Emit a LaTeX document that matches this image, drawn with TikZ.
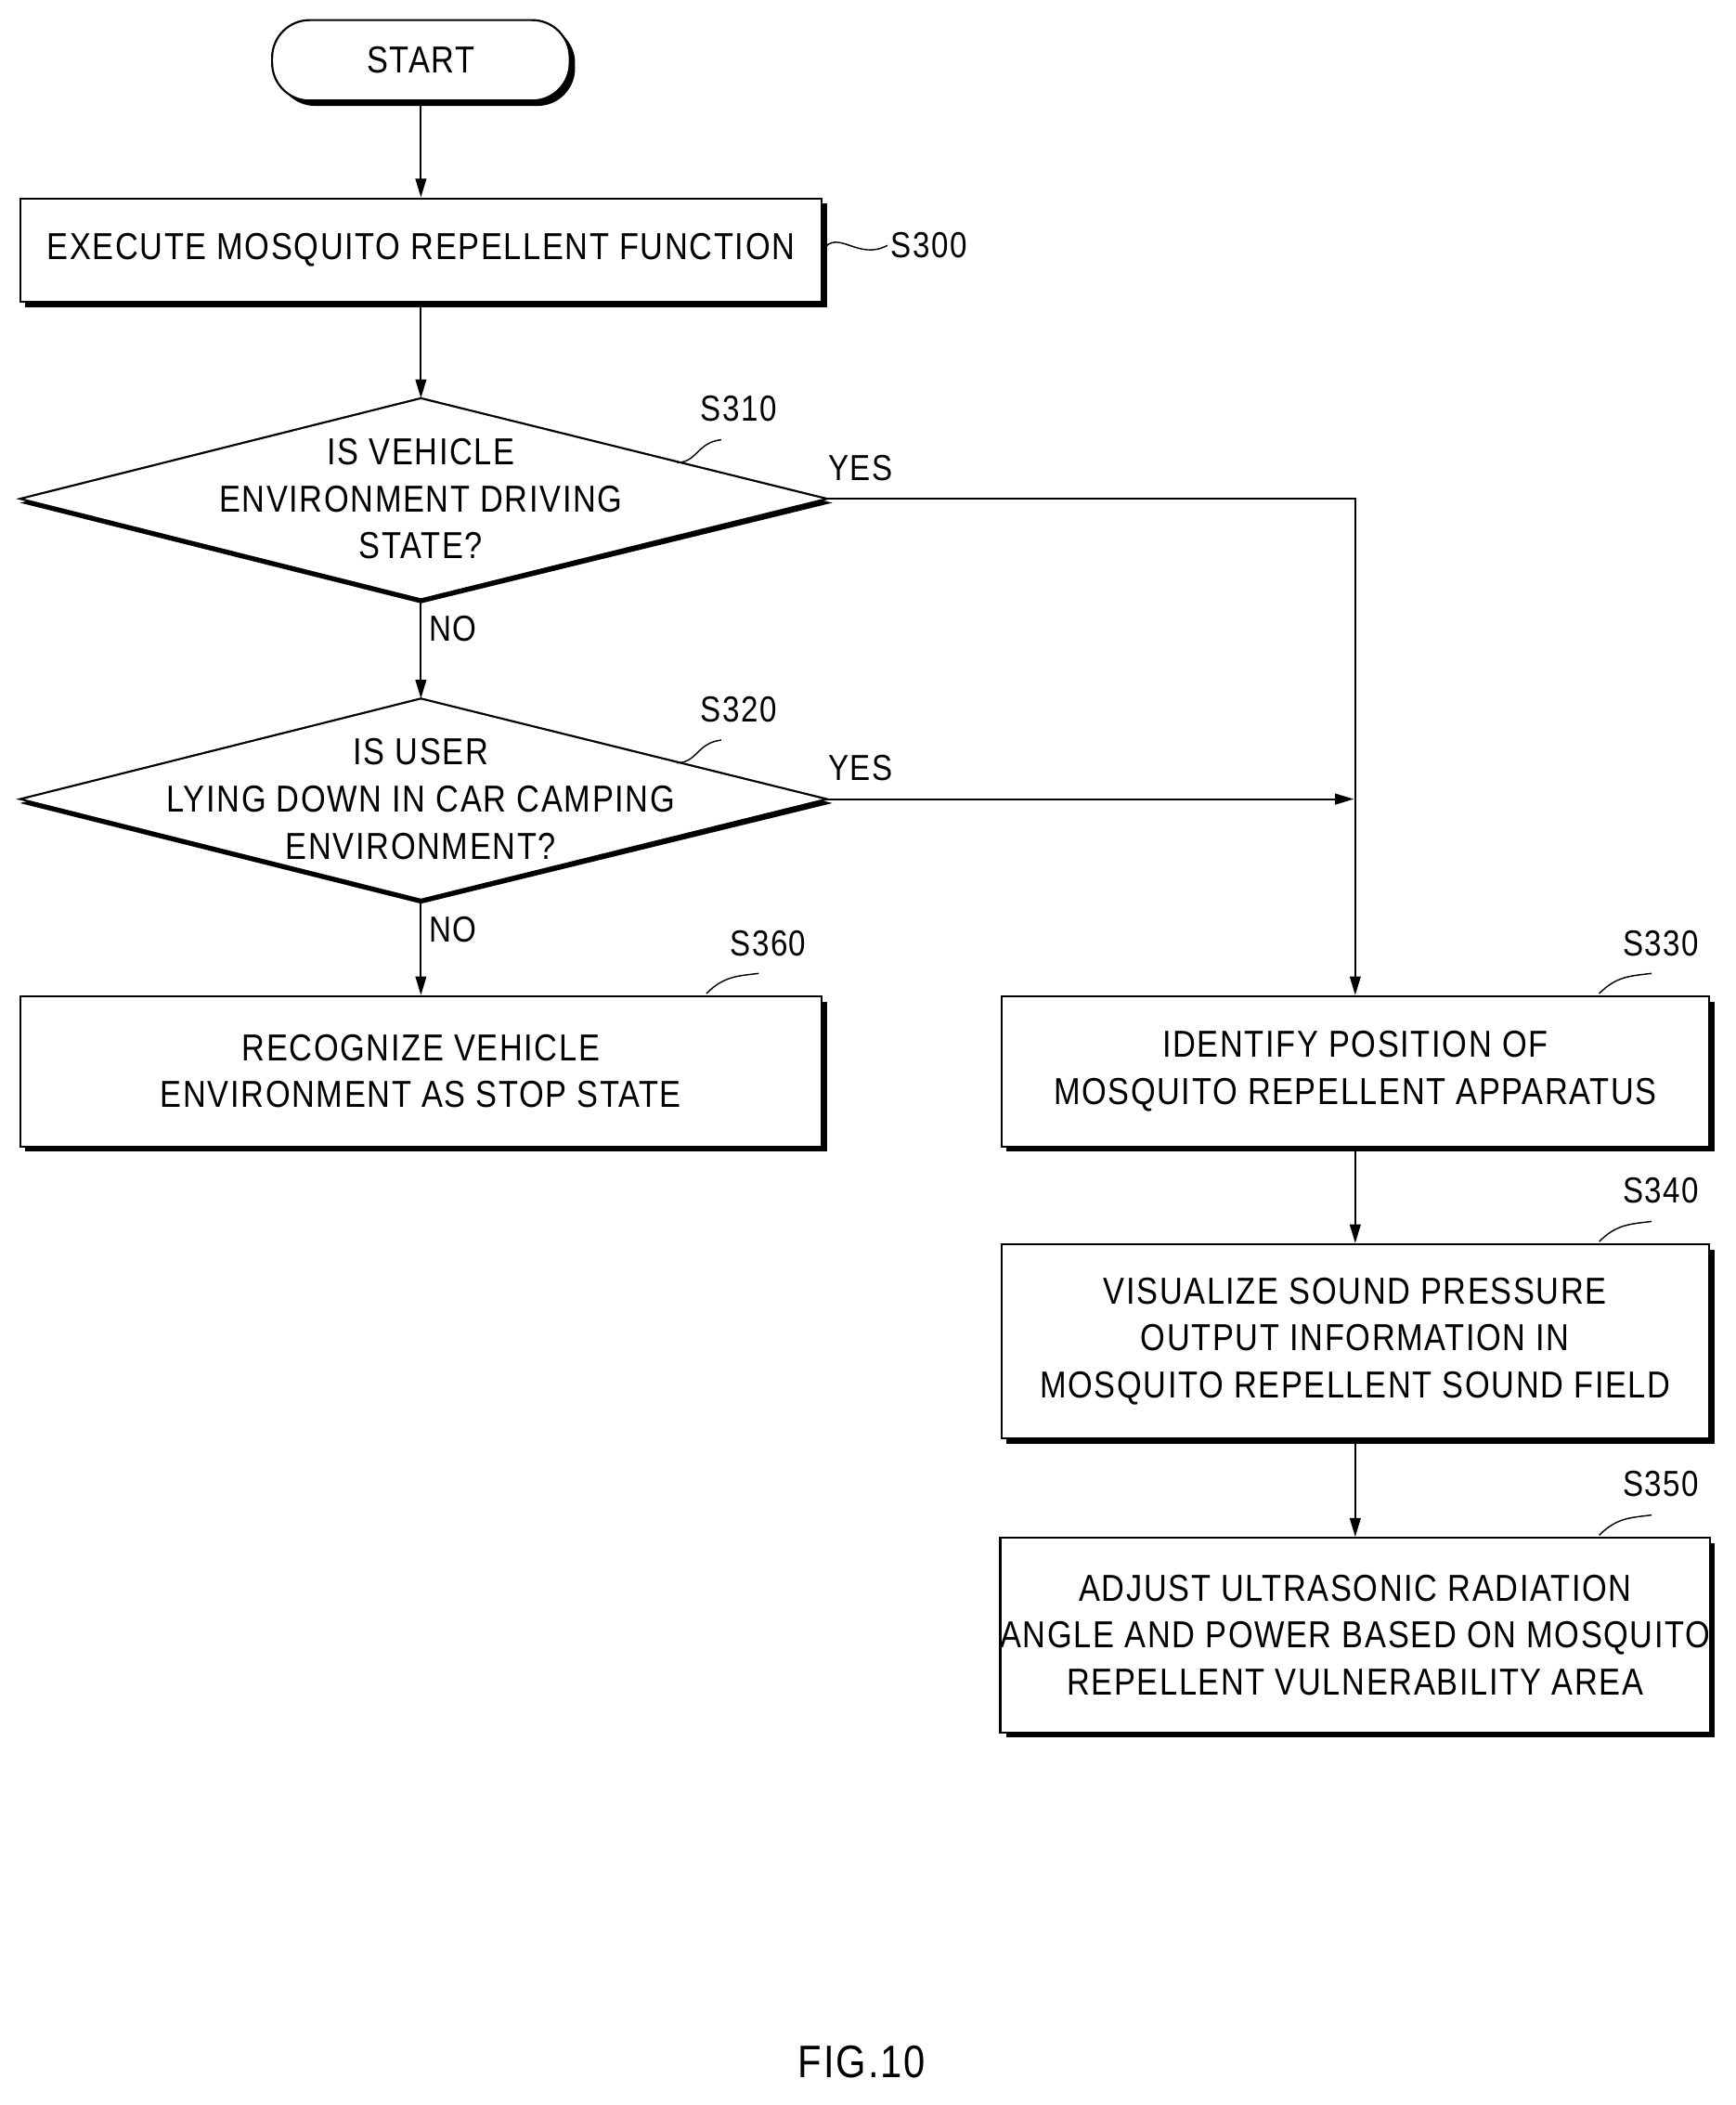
\documentclass[tikz,border=0pt]{standalone}
\usepackage{fontspec}
\setmainfont[FakeStretch=0.85,LetterSpace=4]{Liberation Sans}
\usetikzlibrary{shapes.geometric,arrows.meta}
\begin{document}
\begin{tikzpicture}[x=1pt,y=-1pt,
  txt/.style={font=\fontsize{28}{35}\selectfont, align=center},
  box/.style={draw, line width=1.5pt, fill=white, inner sep=0pt, txt},
  arr/.style={line width=1.5pt, -{Triangle[length=14pt,width=8pt]}},
  ln/.style={line width=1.5pt},
  lab/.style={font=\fontsize{27}{32}\selectfont},
  tl/.style={line width=1pt}]
\useasboundingbox (0,0) rectangle (1295,1570);
\newcommand{\shbox}[6]{% name x1 y1 x2 y2 text
  \fill (#2+4,#3+4) rectangle (#4+4,#5+4);
  \node[box, minimum width=#4-#2, minimum height=#5-#3] (#1) at ({(#2+#4)/2},{(#3+#5)/2}) {#6};}
% START
\fill[rounded corners=28pt] (207,19) rectangle (429,79);
\node[draw, line width=1.5pt, fill=white, rounded corners=28pt, minimum width=222pt, minimum height=60pt, txt] (start) at (314,45) {START};
\shbox{s300}{15}{148}{613}{225}{EXECUTE MOSQUITO REPELLENT FUNCTION}
\shbox{s360}{15}{743}{613}{855}{RECOGNIZE VEHICLE\\ENVIRONMENT AS STOP STATE}
\shbox{s330}{747}{743}{1275}{855}{IDENTIFY POSITION OF\\MOSQUITO REPELLENT APPARATUS}
\shbox{s340}{747}{928}{1275}{1073}{VISUALIZE SOUND PRESSURE\\OUTPUT INFORMATION IN\\MOSQUITO REPELLENT SOUND FIELD}
\shbox{s350}{747}{1147}{1275}{1292}{ADJUST ULTRASONIC RADIATION\\ANGLE AND POWER BASED ON MOSQUITO\\REPELLENT VULNERABILITY AREA}
% diamonds
\fill (15,375) -- (314,300) -- (621,375) -- (314,450) -- cycle;
\draw[ln, fill=white] (15,372) coordinate (d1w) -- (314,297) coordinate (d1n) -- (617,372) coordinate (d1e) -- (314,447) coordinate (d1s) -- cycle;
\node[txt] (d1) at (314,372) {IS VEHICLE\\ENVIRONMENT DRIVING\\STATE?};
\fill (15,599) -- (314,524) -- (621,599) -- (314,674) -- cycle;
\draw[ln, fill=white] (15,596) coordinate (d2w) -- (314,521) coordinate (d2n) -- (617,596) coordinate (d2e) -- (314,671) coordinate (d2s) -- cycle;
\node[txt] (d2) at (314,596) {IS USER\\LYING DOWN IN CAR CAMPING\\ENVIRONMENT?};
% connectors
\draw[arr] (start.south) -- (s300.north);
\draw[arr] (s300.south) -- (d1n);
\draw[arr] (d1s) -- (d2n);
\draw[arr] (d2s) -- (s360.north);
\draw[arr] (d1e) -| (s330.north);
\coordinate (j) at (1010,596);
\draw[arr] (d2e) -- (j);
\draw[arr] (s330.south) -- (s340.north);
\draw[arr] (s340.south) -- (s350.north);
% yes/no
\node[lab] (y1) at (642,349) {YES};
\node[lab] (y2) at (642,573) {YES};
\node[lab] (n1) at (338,469) {NO};
\node[lab] (n2) at (338,693) {NO};
% step labels
\node[lab] (l300) at (693,183) {S300};
\draw[tl] (s300.east) .. controls (625,170) and (640,195) .. (662,183);
\node[lab] (l310) at (551,305) {S310};
\draw[tl] (505,345) .. controls (520,345) and (520,330) .. (538,328);
\node[lab] (l320) at (551,529) {S320};
\draw[tl] (505,569) .. controls (520,569) and (520,554) .. (538,552);
\node[lab] (l360) at (573,704) {S360};
\draw[tl] (527,741) .. controls (540,728) and (550,728) .. (566,726);
\node[lab] (l330) at (1239,704) {S330};
\draw[tl] (1193,741) .. controls (1206,728) and (1216,728) .. (1232,726);
\node[lab] (l340) at (1239,888) {S340};
\draw[tl] (1193,926) .. controls (1206,913) and (1216,913) .. (1232,911);
\node[lab] (l350) at (1239,1107) {S350};
\draw[tl] (1193,1145) .. controls (1206,1132) and (1216,1132) .. (1232,1130);
\node[font=\fontsize{34}{40}\selectfont] (fig) at (643,1538) {FIG.10};
\end{tikzpicture}
\end{document}
